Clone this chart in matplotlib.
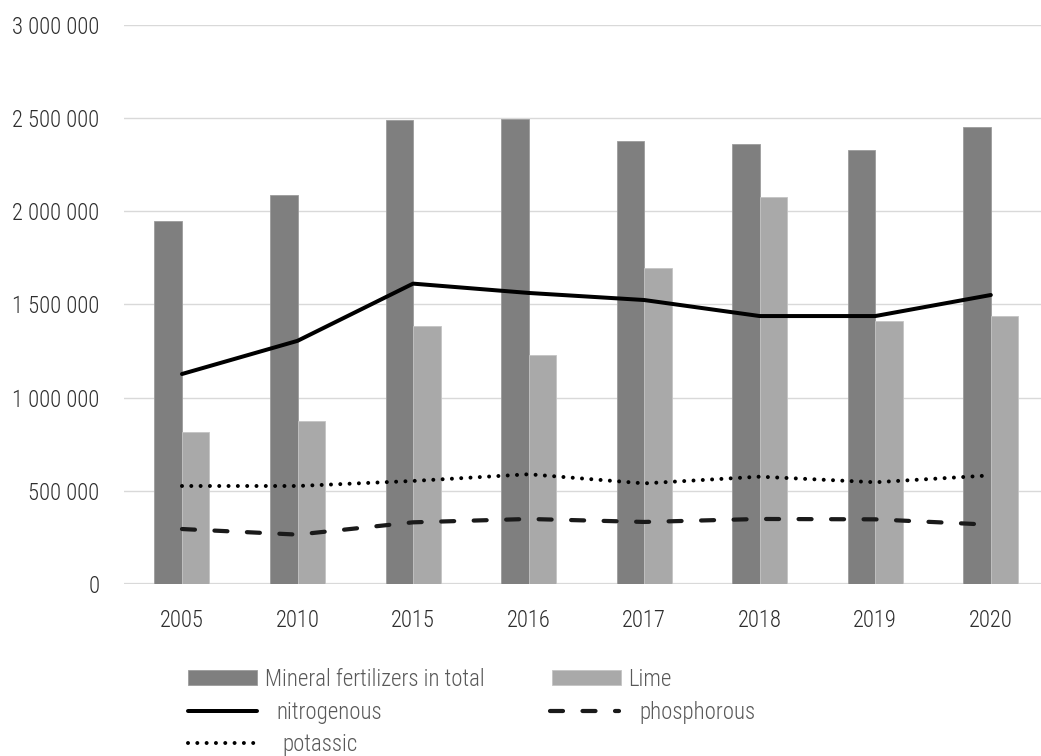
import matplotlib
matplotlib.use("Agg")
import matplotlib.pyplot as plt
from matplotlib.ticker import FuncFormatter, MultipleLocator
import numpy as np

plt.rcParams["font.family"] = ["Roboto Condensed", "DejaVu Sans"]
plt.rcParams["font.weight"] = 300
plt.rcParams["lines.scale_dashes"] = False

years = ["2005", "2010", "2015", "2016", "2017", "2018", "2019", "2020"]
mineral_total = [1950000, 2090000, 2490000, 2495000, 2380000, 2360000, 2330000, 2450000]
lime = [818000, 877000, 1385000, 1230000, 1694000, 2075000, 1410000, 1437000]
nitrogenous = [1127000, 1305000, 1612000, 1562000, 1524000, 1438000, 1438000, 1551000]
phosphorous = [295000, 265000, 331000, 349000, 333000, 349000, 347000, 318000]
potassic = [526000, 526000, 553000, 589000, 540000, 576000, 546000, 583000]

W, H = 1041, 756
fig = plt.figure(figsize=(W / 100, H / 100), dpi=100)
ax = fig.add_axes([124.2 / W, 172 / H, 924.4 / W, 559 / H])

x = np.arange(len(years))
bw = 0.238
ax.bar(x - bw / 2, mineral_total, width=bw, color="#7f7f7f", edgecolor="#9c9c9c",
       linewidth=0.6, zorder=2, label="Mineral fertilizers in total")
ax.bar(x + bw / 2, lime, width=bw, color="#a9a9a9", edgecolor="#c4c4c4",
       linewidth=0.6, zorder=2, label="Lime")

px = 0.72  # points per pixel
ax.plot(x, nitrogenous, color="black", lw=4 * px, solid_joinstyle="round",
        solid_capstyle="round", zorder=3, label="nitrogenous")
ax.plot(x, phosphorous, color="#1a1a1a", lw=4.2 * px,
        dashes=(13 * px, 19.5 * px), dash_capstyle="round",
        dash_joinstyle="round", zorder=3, label="phosphorous")
ax.plot(x, potassic, color="black", lw=4 * px,
        dashes=(0.01, 9.3 * px), dash_capstyle="round", zorder=3,
        label="potassic")

ax.set_xlim(-0.5, len(years) - 0.5)
ax.set_ylim(0, 3000000)
ax.yaxis.set_major_locator(MultipleLocator(500000))
ax.yaxis.set_major_formatter(FuncFormatter(lambda v, p: f"{v:,.0f}".replace(",", " ")))
ax.set_xticks(x)
ax.set_xticklabels(years)
ax.tick_params(axis="both", length=0, labelsize=16.3, labelcolor="#2e2e2e")
ax.tick_params(axis="y", pad=18)
ax.tick_params(axis="x", pad=18)
ax.grid(axis="y", color="#d9d9d9", lw=1.0, zorder=0)
ax.axhline(0, color="#d9d9d9", lw=1.6, zorder=1)
ax.set_axisbelow(True)
for s in ax.spines.values():
    s.set_visible(False)

# legend entries placed individually, two columns
handles = {h.get_label(): h for h in ax.get_legend_handles_labels()[0]}
entries = [
    ("Mineral fertilizers in total", 188, 679, 0.35),
    ("Lime", 552, 679, 0.31),
    ("nitrogenous", 188, 712.5, 0.87),
    ("phosphorous", 550, 712.5, 0.92),
    ("potassic", 188, 744, 1.13),
]
for label, lx, ly, pad in entries:
    fig.legend([handles[label]], [label], loc="center left",
               bbox_to_anchor=(lx / W, 1 - ly / H), frameon=False,
               borderpad=0, borderaxespad=0, handlelength=3.0, handleheight=0.61,
               handletextpad=pad, fontsize=16.5, labelcolor="#595959")

fig.savefig("out.png", dpi=100)
